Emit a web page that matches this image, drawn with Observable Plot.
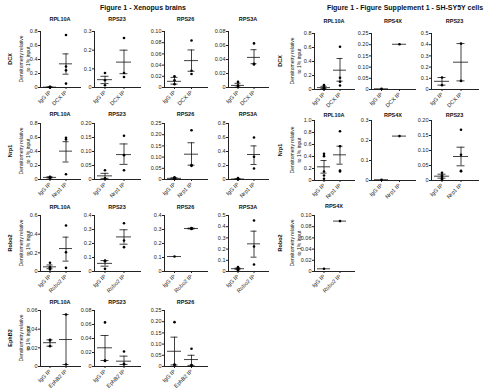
<!DOCTYPE html>
<html><head><meta charset="utf-8">
<script src="https://cdn.jsdelivr.net/npm/d3@7"></script>
<script src="https://cdn.jsdelivr.net/npm/@observablehq/plot@0.6"></script>
<style>
body{margin:0;background:#fff;}
#root{position:relative;width:500px;height:391px;overflow:hidden;font-family:"Liberation Sans",Arial,sans-serif;background:#fff;}
.lab{position:absolute;white-space:nowrap;color:#111;line-height:1;}
</style></head><body><div id="root"></div>
<script>
// Each panel: [IgG IP points, receptor IP points, means [IgG, IP], lower SEM [IgG, IP], upper SEM [IgG, IP]]
const figTitleA = "Figure 1 - Xenopus brains";
const figTitleB = "Figure 1 - Figure Supplement 1 - SH-SY5Y cells";
const receptorsA = ["DCX", "Nrp1", "Robo2", "EphB2"];
const proteinsA = ["RPL10A", "RPS23", "RPS26", "RPS3A"];
const receptorsB = ["DCX", "Nrp1", "Robo2"];
const proteinsB = ["RPL10A", "RPS4X", "RPS23"];
const yLabel = ["Densitometry relative", "to 1% input"];

// Xenopus brains
const a_dcx_rpl10a = [[0.01,0.006,0.003,0.001],[0.75,0.30,0.245,0.056],[0.005,0.338],[0.002,0.19],[0.008,0.48]];
const a_dcx_rps23 = [[0.078,0.039,0.012],[0.265,0.078,0.056],[0.042,0.136],[0.021,0.074],[0.06,0.2]];
const a_dcx_rps26 = [[0.02,0.013,0.006],[0.084,0.03,0.024],[0.011,0.048],[0.006,0.029],[0.018,0.067]];
const a_dcx_rps3a = [[0.008,0.003,0.001],[0.063,0.034,0.033],[0.003,0.043],[0.0005,0.034],[0.006,0.054]];
const a_nrp1_rpl10a = [[0.04,0.03,0.025,0.02],[0.595,0.571,0.076],[0.03,0.405],[0.022,0.25],[0.038,0.54]];
const a_nrp1_rps23 = [[0.033,0.004,0.002],[0.156,0.087,0.033],[0.013,0.089],[0.004,0.054],[0.022,0.127]];
const a_nrp1_rps26 = [[0.01,0.003,0.002],[0.22,0.064,0.061],[0.005,0.113],[0.002,0.064],[0.008,0.164]];
const a_nrp1_rps3a = [[0.019,0.006,0.003],[0.6,0.324,0.157],[0.007,0.357],[0.002,0.214],[0.012,0.48]];
const a_robo2_rpl10a = [[0.093,0.046,0.039,0.021],[0.493,0.207,0.039],[0.05,0.246],[0.03,0.111],[0.07,0.368]];
const a_robo2_rps23 = [[0.079,0.074,0.019],[0.345,0.221,0.174],[0.058,0.247],[0.038,0.195],[0.078,0.298]];
const a_robo2_rps26 = [[0.107],[0.31,0.307,0.304],[0.107,0.307],[0.107,0.304],[0.107,0.31]];
const a_robo2_rps3a = [[0.039,0.03,0.024,0.018,0.012],[0.455,0.223,0.063],[0.025,0.247],[0.02,0.128],[0.03,0.36]];
const a_ephb2_rpl10a = [[0.0286,0.0279,0.0218],[0.0557,0.0021],[0.0255,0.0289],[0.0218,0.0021],[0.0286,0.0557]];
const a_ephb2_rps23 = [[0.063,0.0086,0.008],[0.0214,0.0038,0.0029],[0.0267,0.0076],[0.0086,0.0029],[0.0443,0.0148]];
const a_ephb2_rps26 = [[0.198,0.009,0.007],[0.079,0.007,0.004],[0.068,0.031],[0.007,0.005],[0.131,0.05]];
// SH-SY5Y cells
const b_dcx_rpl10a = [[0.062,0.029,0.015,0.003],[0.61,0.167,0.11,0.057],[0.027,0.276],[0.012,0.119],[0.045,0.443]];
const b_dcx_rps4x = [[0.003],[0.202],[0.003,0.202],[0.003,0.202],[0.003,0.202]];
const b_dcx_rps23 = [[0.107,0.039],[0.41,0.077],[0.073,0.244],[0.039,0.077],[0.107,0.41]];
const b_nrp1_rpl10a = [[0.444,0.406,0.15,0.083,0.028],[0.822,0.572,0.15,0.167],[0.228,0.428],[0.122,0.272],[0.333,0.572]];
const b_nrp1_rps4x = [[0.004],[0.222],[0.004,0.222],[0.004,0.222],[0.004,0.222]];
const b_nrp1_rps23 = [[0.0256,0.0167,0.012,0.007,0.003],[0.169,0.0856,0.032,0.031],[0.0144,0.08],[0.0078,0.049],[0.021,0.111]];
const b_robo2_rps4x = [[0.0048],[0.09],[0.0048,0.09],[0.0048,0.09],[0.0048,0.09]];

// y-axis maxima and tick steps
const yMaxA = [[0.8,0.3,0.10,0.08],[0.8,0.20,0.25,0.8],[0.6,0.4,0.4,0.5],[0.06,0.08,0.25]];
const yStepA = [[0.2,0.1,0.02,0.02],[0.2,0.05,0.05,0.2],[0.2,0.1,0.1,0.1],[0.02,0.02,0.05]];
const yMaxB = [[0.8,0.25,0.5],[1.0,0.3,0.20],[0.10]];
const yStepB = [[0.2,0.05,0.1],[0.2,0.1,0.05],[0.02]];
const dataA = [[a_dcx_rpl10a,a_dcx_rps23,a_dcx_rps26,a_dcx_rps3a],[a_nrp1_rpl10a,a_nrp1_rps23,a_nrp1_rps26,a_nrp1_rps3a],[a_robo2_rpl10a,a_robo2_rps23,a_robo2_rps26,a_robo2_rps3a],[a_ephb2_rpl10a,a_ephb2_rps23,a_ephb2_rps26]];
const dataB = [[b_dcx_rpl10a,b_dcx_rps4x,b_dcx_rps23],[b_nrp1_rpl10a,b_nrp1_rps4x,b_nrp1_rps23],[b_robo2_rps4x]];
const protB = [proteinsB, proteinsB, ["RPS4X"]];

// layout
const colA = [[40,80],[94,140],[164,207],[228,268]];
const rowA = [[31,87],[123,179],[215,271],[310,366]];
const titleYA = [20,115,208,303];
const colB = [[314,354],[371,415],[431,478]];
const rowB = [[33,89],[120,180],[215,271]];
const titleYB = [22,116,207];

const root = document.getElementById("root");
function label(text, x, y, css) {
  const d = document.createElement("div");
  d.className = "lab";
  d.innerHTML = text;
  d.style.left = x + "px"; d.style.top = y + "px";
  Object.assign(d.style, css || {});
  root.appendChild(d);
  return d;
}
function decimals(s) { const t = String(s); return t.includes(".") ? t.split(".")[1].length : 0; }

function panel(rec, prot, d, ymax, step, xa, xr, yt, yb, ty) {
  const gA = "IgG IP", gB = rec + " IP";
  const pts = [...d[0].map(v => ({g: gA, v})), ...d[1].map(v => ({g: gB, v}))];
  const stats = [0, 1].map(i => ({g: i ? gB : gA, m: d[2][i], lo: d[3][i], hi: d[4][i]}));
  const err = stats.filter(s => s.hi > s.lo);
  const dec = Math.max(decimals(step), decimals(ymax));
  const ticks = d3.range(0, ymax + step / 2, step).map(v => +v.toFixed(4));
  const mL = 24, mR = 3, mT = 3, mB = 28;
  const svg = Plot.plot({
    width: xr - xa + mL + mR, height: yb - yt + mT + mB,
    marginLeft: mL, marginRight: mR, marginTop: mT, marginBottom: mB,
    style: {background: "none", overflow: "visible", fontSize: "5.5px", fontFamily: "Liberation Sans, Arial, sans-serif", color: "#222"},
    x: {type: "band", domain: [gA, gB], paddingInner: 0.2, paddingOuter: 0.3, align: 0.25, label: null, tickRotate: -45, tickSize: 2, tickPadding: 2, line: true},
    y: {domain: [0, ymax], ticks, tickFormat: v => v === 0 ? "0" : v.toFixed(dec), label: null, tickSize: 2, tickPadding: 1, line: true},
    marks: [
      Plot.ruleX(err, {x: "g", y1: "lo", y2: "hi", stroke: "#111", strokeWidth: 0.8}),
      Plot.tickY(err, {x: "g", y: "hi", insetLeft: 3.5, insetRight: 3.5, stroke: "#111", strokeWidth: 0.8}),
      Plot.tickY(err, {x: "g", y: "lo", insetLeft: 3.5, insetRight: 3.5, stroke: "#111", strokeWidth: 0.8}),
      Plot.tickY(stats, {x: "g", y: "m", stroke: "#111", strokeWidth: 0.8}),
      Plot.dot(pts, {x: "g", y: "v", r: 1.3, fill: "#000", stroke: "none"})
    ]
  });
  svg.style.position = "absolute";
  svg.style.left = (xa - mL) + "px";
  svg.style.top = (yt - mT) + "px";
  svg.style.maxWidth = "none";
  root.appendChild(svg);
  label(prot, (xa + xr) / 2, ty, {fontSize: "5.5px", fontWeight: "bold", transform: "translate(-50%,-50%)"});
}

function rowLabels(rec, xRec, xLab, yc) {
  label(rec, xRec, yc, {fontSize: "5.5px", fontWeight: "bold", transform: "translate(-50%,-50%) rotate(-90deg)"});
  label(yLabel.join("<br>"), xLab, yc, {fontSize: "5px", lineHeight: "6.5px", textAlign: "center", transform: "translate(-50%,-50%) rotate(-90deg)"});
}

label(figTitleA, 143, 7, {fontSize: "7px", fontWeight: "bold", transform: "translate(-50%,-50%)"});
label(figTitleB, 405, 7, {fontSize: "7px", fontWeight: "bold", transform: "translate(-50%,-50%)"});

receptorsA.forEach((rec, r) => {
  rowLabels(rec, 11, 24, (rowA[r][0] + rowA[r][1]) / 2);
  dataA[r].forEach((d, c) => {
    panel(rec, proteinsA[c], d, yMaxA[r][c], yStepA[r][c], colA[c][0], colA[c][1], rowA[r][0], rowA[r][1], titleYA[r]);
  });
});
receptorsB.forEach((rec, r) => {
  rowLabels(rec, 281, 295, (rowB[r][0] + rowB[r][1]) / 2);
  dataB[r].forEach((d, c) => {
    panel(rec, protB[r][c], d, yMaxB[r][c], yStepB[r][c], colB[c][0], colB[c][1], rowB[r][0], rowB[r][1], titleYB[r]);
  });
});
</script></body></html>
